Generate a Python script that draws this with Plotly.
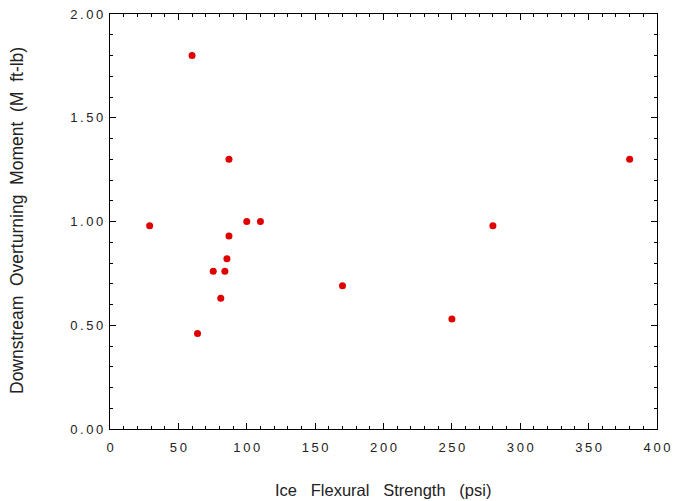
import plotly.graph_objects as go

# Ice flexural strength (psi) vs downstream overturning moment (M ft-lb)
strength_psi = [29, 60, 64, 75.5, 81, 84, 85.5, 87, 87, 100, 110, 170, 250, 280, 380]
moment_mftlb = [0.98, 1.80, 0.46, 0.76, 0.63, 0.76, 0.82, 1.30, 0.93, 1.00, 1.00, 0.69, 0.53, 0.98, 1.30]

x_ticks = [0, 50, 100, 150, 200, 250, 300, 350, 400]
y_ticks = [0.0, 0.5, 1.0, 1.5, 2.0]

THIN = "\u2009"
NB = "\u00a0"
x_ticktext = [THIN.join(str(v)) for v in x_ticks]
y_ticktext = [THIN.join(f"{v:.2f}") for v in y_ticks]

x_title = (NB * 3).join(["Ice", "Flexural", "Strength", "(psi)"])
y_title = (NB * 2).join(["Downstream", "Overturning", "Moment", "(M", "ft-lb)"])

font_family = "Liberation Sans, Arial, sans-serif"
text_color = "#222222"

W, H = 673, 501
L, R, T, B = 110, 16, 14, 72

fig = go.Figure(
    go.Scatter(
        x=strength_psi,
        y=moment_mftlb,
        mode="markers",
        marker=dict(size=7, color="#e00000", line=dict(width=0)),
        hoverinfo="x+y",
    )
)

axis_common = dict(
    showgrid=False,
    zeroline=False,
    showline=True,
    linecolor="black",
    linewidth=1.2,
    mirror="ticks",
    ticks="inside",
    ticklen=6,
    tickwidth=1,
    tickcolor="black",
    automargin=False,
    tickfont=dict(family=font_family, size=13, color=text_color),
)

fig.update_xaxes(
    range=[0, 400],
    tickmode="array",
    tickvals=x_ticks,
    ticktext=x_ticktext,
    ticklabelstandoff=6,
    minor=dict(dtick=10, ticks="inside", ticklen=3, tickwidth=1, tickcolor="black", showgrid=False),
    **axis_common,
)

fig.update_yaxes(
    range=[0, 2.0],
    tickmode="array",
    tickvals=y_ticks,
    ticktext=y_ticktext,
    ticklabelstandoff=3,
    minor=dict(dtick=0.1, ticks="inside", ticklen=3, tickwidth=1, tickcolor="black", showgrid=False),
    **axis_common,
)

pw, ph = W - L - R, H - T - B
fig.add_annotation(
    text=x_title, xref="paper", yref="paper",
    x=(383 - L) / pw, y=(H - B - 490) / ph,
    xanchor="center", yanchor="middle", showarrow=False,
    font=dict(family=font_family, size=16.5, color=text_color),
)
fig.add_annotation(
    text=y_title, xref="paper", yref="paper",
    x=(17 - L) / pw, y=(H - B - 221) / ph,
    xanchor="center", yanchor="middle", textangle=-90, showarrow=False,
    font=dict(family=font_family, size=17.5, color=text_color),
)

fig.update_layout(
    width=W,
    height=H,
    margin=dict(l=L, r=R, t=T, b=B),
    paper_bgcolor="white",
    plot_bgcolor="white",
    showlegend=False,
)

fig.write_html("out.html")
